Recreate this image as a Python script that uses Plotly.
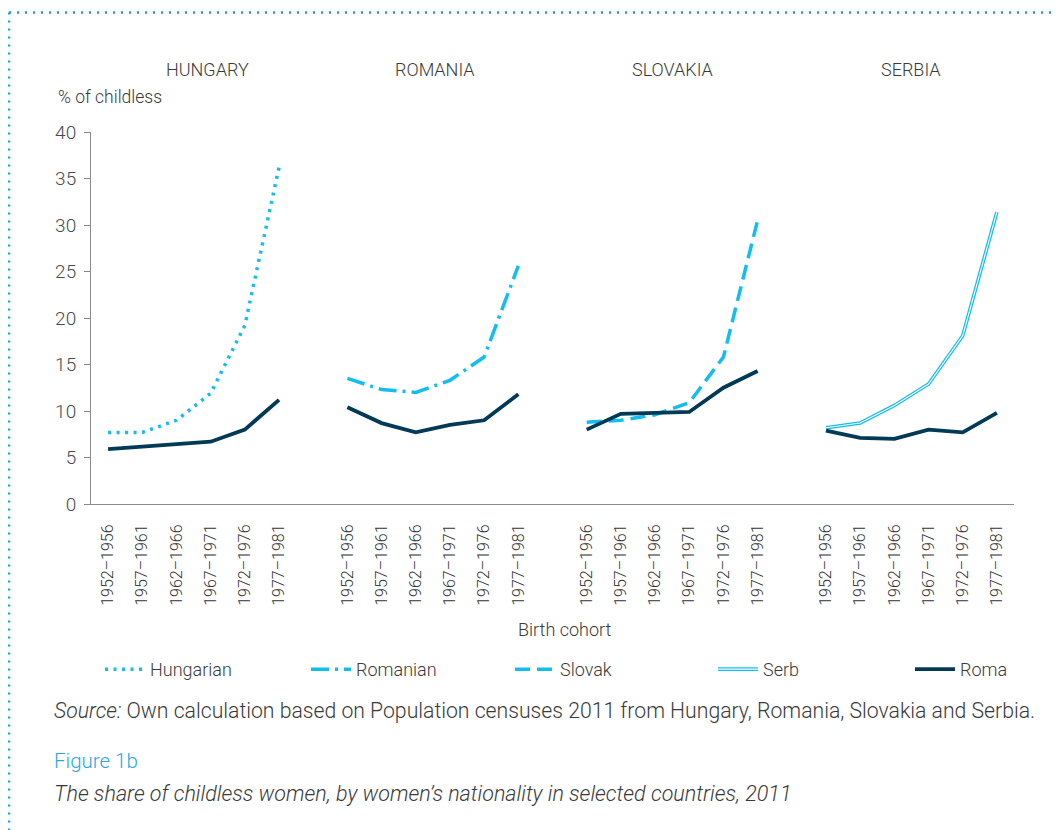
import plotly.graph_objects as go

cohorts = ["1952–1956", "1957–1961", "1962–1966", "1967–1971", "1972–1976", "1977–1981"]
countries = ["HUNGARY", "ROMANIA", "SLOVAKIA", "SERBIA"]

hungarian = [7.7, 7.7, 9.0, 11.9, 19.2, 36.2]
romanian = [13.5, 12.3, 12.0, 13.3, 15.8, 25.6]
slovak = [8.8, 9.0, 9.6, 10.9, 15.8, 30.5]
serb = [8.2, 8.7, 10.6, 12.9, 18.1, 31.4]
roma = {
    "HUNGARY": [5.9, 6.2, 6.4, 6.7, 8.0, 11.2],
    "ROMANIA": [10.4, 8.7, 7.7, 8.5, 9.0, 11.8],
    "SLOVAKIA": [8.0, 9.7, 9.8, 9.9, 12.5, 14.3],
    "SERBIA": [7.9, 7.1, 7.0, 8.0, 7.7, 9.8],
}

SLOT = len(cohorts) + 1  # one blank slot between country groups


def xs(g):
    return [g * SLOT + i for i in range(len(cohorts))]


LIGHT = "#13bdf0"
DARK = "#003a57"
TXT = "#3a3a3a"
FONT = "Roboto, sans-serif"
W = 300

# page offset (browser body margin)
OFF = 8
PL, PT, PW, PH = 91, 131.7, 923, 372.6  # plot area in reference pixels


def fx(X):
    return (X - PL) / PW


def fy(Y):
    return (PT + PH - Y) / PH


fig = go.Figure()

rx, ry = [], []
for g, c in enumerate(countries):
    rx += xs(g) + [g * SLOT + len(cohorts)]
    ry += roma[c] + [None]
rx, ry = rx[:-1], ry[:-1]

fig.add_trace(go.Scatter(x=xs(0), y=hungarian, mode="lines", name="Hungarian",
                         line=dict(color=LIGHT, width=3.5, dash="3px,5.5px"), legend="legend"))
fig.add_trace(go.Scatter(x=xs(1), y=romanian, mode="lines", name="Romanian",
                         line=dict(color=LIGHT, width=3.5, dash="18px,6px,3px,6px"), legend="legend2"))
fig.add_trace(go.Scatter(x=xs(2), y=slovak, mode="lines", name="Slovak",
                         line=dict(color=LIGHT, width=3.5, dash="15px,7px"), legend="legend3"))
fig.add_trace(go.Scatter(x=xs(3), y=serb, mode="lines", name="Serb",
                         line=dict(color=LIGHT, width=3.6), legend="legend4"))
fig.add_trace(go.Scatter(x=xs(3), y=serb, mode="lines", name="Serb",
                         line=dict(color="white", width=1.1), legend="legend6"))
fig.add_trace(go.Scatter(x=rx, y=ry, mode="lines", name="Roma", connectgaps=False,
                         line=dict(color=DARK, width=3.8), legend="legend5"))

n_slots = SLOT * len(countries) - 1
xrange = [-0.5, n_slots - 0.5]
tickpos, ticklab = [], []
for g in range(len(countries)):
    tickpos += xs(g)
    ticklab += cohorts

ml = PL - OFF
mt = PT - OFF
fig.update_layout(
    width=1064, height=830,
    margin=dict(l=ml, r=1064 - ml - PW, t=mt, b=830 - mt - PH),
    paper_bgcolor="white", plot_bgcolor="white",
    font=dict(family=FONT, color=TXT, size=18, weight=W),
    xaxis=dict(range=xrange, tickmode="array", tickvals=tickpos, ticktext=ticklab,
               tickangle=-90, ticks="", ticklabelstandoff=13,
               showline=True, linecolor="#8a8a8a", linewidth=1, showgrid=False, zeroline=False,
               tickfont=dict(size=16, color="#333333", family=FONT, weight=W)),
    xaxis2=dict(range=xrange, overlaying="x", side="bottom", anchor="y", tickmode="array",
                tickvals=[i - 0.5 for i in range(n_slots + 1)], ticks="outside", ticklen=7,
                tickcolor="#8a8a8a", showticklabels=False, showgrid=False, zeroline=False,
                showline=False),
    yaxis=dict(range=[0, 40], tickvals=list(range(0, 41, 5)), ticks="outside", ticklen=6,
               tickcolor="#8a8a8a", showline=True, linecolor="#8a8a8a", linewidth=1,
               showgrid=False, zeroline=False, ticklabelstandoff=4,
               tickfont=dict(size=19, color="#4a4a4a", family=FONT, weight=W)),
    showlegend=True,
)

lf = dict(size=18, color=TXT, family=FONT, weight=W)
leg_common = dict(orientation="h", yanchor="middle", xanchor="left", bgcolor="rgba(0,0,0,0)",
                  itemwidth=40)
leg_y = fy(670)
fig.update_layout(
    legend=dict(x=fx(100), y=leg_y, font=lf, **leg_common),
    legend2=dict(x=fx(306), y=leg_y, font=lf, **leg_common),
    legend3=dict(x=fx(510), y=leg_y, font=lf, **leg_common),
    legend4=dict(x=fx(713), y=leg_y, font=lf, **leg_common),
    legend6=dict(x=fx(713), y=leg_y, font={**lf, "color": "rgba(0,0,0,0)"}, **leg_common),
    legend5=dict(x=fx(910), y=leg_y, font=lf, **leg_common),
)

title_shift = [0.4, 0.05, 0.0, 0.0]
for g, c in enumerate(countries):
    fig.add_annotation(x=g * SLOT + (len(cohorts) - 1) / 2 + title_shift[g], y=fy(69),
                       xref="x", yref="paper", text=c, showarrow=False,
                       font=dict(size=18, color=TXT, family=FONT, weight=W), yanchor="middle")


def note(X, Y, text, size, color=TXT, anchor="left"):
    fig.add_annotation(x=fx(X), y=fy(Y), xref="paper", yref="paper", text=text, showarrow=False,
                       xanchor=anchor, yanchor="middle",
                       font=dict(size=size, color=color, family=FONT, weight=W))


note(56, 97, "% of childless", 17.5)
note(565, 630, "Birth cohort", 18, anchor="center")
note(52, 711, "<i>Source:</i> Own calculation based on Population censuses 2011 from Hungary, Romania, Slovakia and Serbia.", 21.2)
note(52, 762, "Figure 1b", 20.5, color="#2aa8de")
note(52, 794, "<i>The share of childless women, by women’s nationality in selected countries, 2011</i>", 21.5)

BORDER = "#1a9fd0"
fig.add_shape(type="line", xref="paper", yref="paper", x0=fx(9), x1=fx(1072),
              y0=fy(12), y1=fy(12), line=dict(color=BORDER, width=2.5, dash="2px,6px"))
fig.add_shape(type="line", xref="paper", yref="paper", x0=fx(9), x1=fx(9),
              y0=fy(12), y1=fy(840), line=dict(color=BORDER, width=2.5, dash="2px,6px"))

fig.write_html("out.html")
